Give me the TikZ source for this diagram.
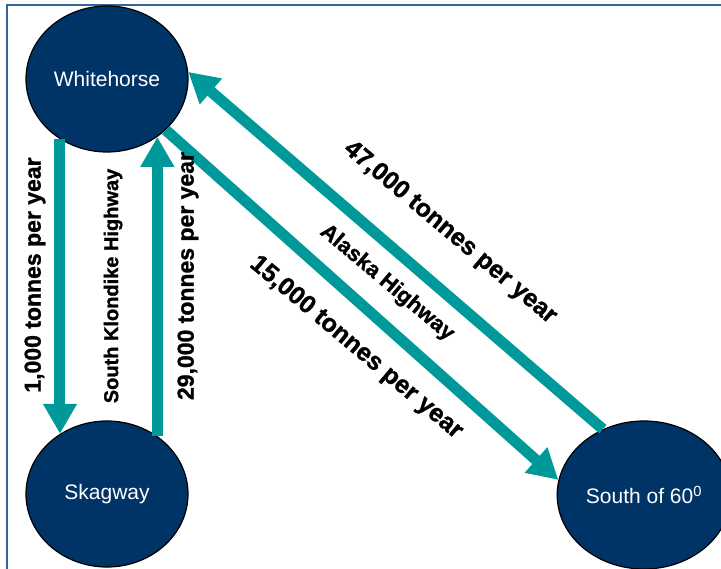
\documentclass[tikz,border=0pt]{standalone}
\usepackage{fontspec}
\setmainfont{Liberation Sans}
\newfontfamily\heavyfont[FakeBold=1.2]{Liberation Sans Bold}
\usetikzlibrary{arrows.meta,shapes.geometric}
\definecolor{navy}{RGB}{0,51,102}
\definecolor{flowteal}{RGB}{0,153,153}
\definecolor{frameblue}{RGB}{51,102,153}
\begin{document}
\begin{tikzpicture}[
	x=1pt, y=-1pt,
	place/.style={ellipse, draw=black, line width=1.2pt, fill=navy, text=white,
		minimum width=162pt, minimum height=146pt, font=\fontsize{21}{21}\selectfont},
	flow/.style={draw=flowteal, line width=11pt, -{Triangle[width=32pt,length=30pt]}},
	tonnage/.style={font=\heavyfont\fontsize{23}{23}\selectfont, inner sep=0pt}
	]
	
	\useasboundingbox (0,0) rectangle (721,569);
	\clip (0,0) rectangle (721,569);
	\draw[frameblue, line width=2pt] (6.5,5) rectangle (760,600);
	
	\node[place] (wh) at (107,79) {Whitehorse};
	\node[place] (sk) at (107,494) {Skagway};
	\node[place, minimum width=152pt, minimum height=148pt] (so) at (644,495) {South of 60\textsuperscript{0}};
	
	\draw[flow] (wh.232) -- (sk.128);
	\draw[flow] (sk.49) -- (wh.311);
	\draw[flow] (wh.319) -- (so.170);
	\draw[flow] (so.122) -- (wh.5);
	
	\node[tonnage, rotate=90] (t1) at (35,275) {1,000 tonnes per year};
	\node[tonnage, rotate=90, font=\heavyfont\fontsize{20}{20}\selectfont] (skh) at (113,286) {South Klondike Highway};
	\node[tonnage, rotate=90] (t29) at (188,276) {29,000 tonnes per year};
	\node[tonnage, rotate=-40, font=\heavyfont\fontsize{25}{25}\selectfont] (t47) at (450,233) {47,000 tonnes per year};
	\node[tonnage, rotate=-40, font=\heavyfont\fontsize{22}{22}\selectfont] (akh) at (387,283) {Alaska Highway};
	\node[tonnage, rotate=-40, font=\heavyfont\fontsize{25}{25}\selectfont] (t15) at (356,348) {15,000 tonnes per year};
\end{tikzpicture}
\end{document}
